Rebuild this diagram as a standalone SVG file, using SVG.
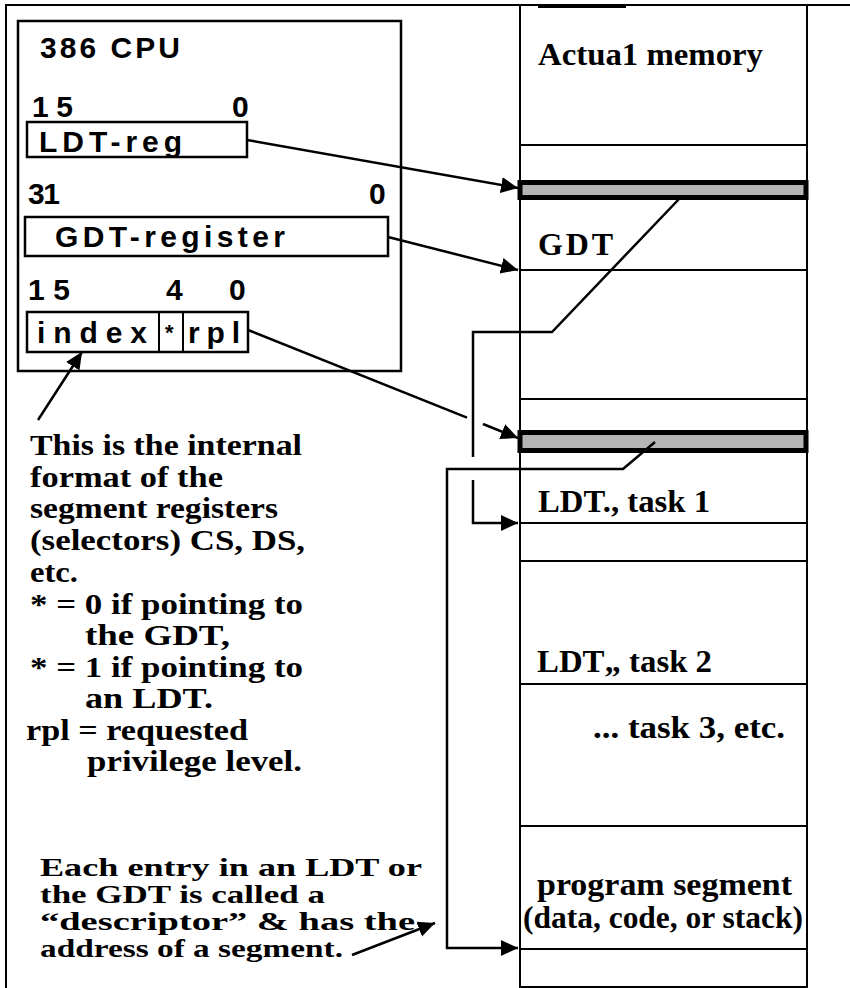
<svg xmlns="http://www.w3.org/2000/svg" width="850" height="988" viewBox="0 0 850 988">
<style>
.ln{stroke:#000;stroke-width:2;fill:none}
.box{stroke:#000;stroke-width:2.5;fill:none}
.band{stroke:#000;stroke-width:5;fill:#b4b4b4}
.cn{stroke:#000;stroke-width:2.5;fill:none}
.sans{font-family:"Liberation Sans",Arial,sans-serif;font-weight:bold;font-size:30px;fill:#000}
.serif{font-family:"Liberation Serif","Times New Roman",serif;font-weight:bold;font-size:29px;fill:#000}
.big{font-size:32px}
.sm{font-size:26px}
</style>
<defs>
<marker id="ah" markerUnits="userSpaceOnUse" markerWidth="18" markerHeight="18" refX="17" refY="9" orient="auto">
<path d="M0,1 L17,9 L0,17 z" fill="#000"/>
</marker>
</defs>
<rect width="850" height="988" fill="#fff"/>

<g id="frame">
<path class="ln" d="M6,988 V5 H850"/>
<rect x="538" y="5" width="88" height="3" fill="#000"/>
</g>

<g id="cpu">
<rect class="box" x="18" y="21" width="383" height="350"/>
<text class="sans" x="40" y="58" textLength="140" lengthAdjust="spacing">386 CPU</text>
</g>

<g id="ldt-reg">
<text class="sans" x="32" y="117" textLength="41" lengthAdjust="spacing">15</text>
<text class="sans" x="232" y="117">0</text>
<rect class="box" x="27" y="122" width="220" height="35"/>
<text class="sans" x="39" y="152" textLength="143" lengthAdjust="spacing">LDT-reg</text>
</g>

<g id="gdt-register">
<text class="sans" x="28" y="204" textLength="32" lengthAdjust="spacing">31</text>
<text class="sans" x="369" y="204">0</text>
<rect class="box" x="25" y="217" width="363" height="39"/>
<text class="sans" x="55" y="247" textLength="230" lengthAdjust="spacing">GDT-register</text>
</g>

<g id="selector">
<text class="sans" x="28" y="300" textLength="42" lengthAdjust="spacing">15</text>
<text class="sans" x="166" y="300">4</text>
<text class="sans" x="229" y="300">0</text>
<rect class="box" x="27" y="312" width="221" height="40"/>
<line class="ln" x1="159" y1="312" x2="159" y2="352"/>
<line class="ln" x1="183" y1="312" x2="183" y2="352"/>
<text class="sans" x="37" y="343" textLength="110" lengthAdjust="spacing">index</text>
<text class="sans" x="165" y="340" style="font-size:22px">*</text>
<text class="sans" x="188" y="343" textLength="52" lengthAdjust="spacing">rpl</text>
</g>

<g id="memory">
<line class="ln" x1="520" y1="5" x2="520" y2="988"/>
<line class="ln" x1="807" y1="5" x2="807" y2="988"/>
<line class="ln" x1="520" y1="145" x2="807" y2="145"/>
<line class="ln" x1="520" y1="270" x2="807" y2="270"/>
<line class="ln" x1="520" y1="399" x2="807" y2="399"/>
<line class="ln" x1="520" y1="523" x2="807" y2="523"/>
<line class="ln" x1="520" y1="561" x2="807" y2="561"/>
<line class="ln" x1="520" y1="684" x2="807" y2="684"/>
<line class="ln" x1="520" y1="826" x2="807" y2="826"/>
<line class="ln" x1="520" y1="949" x2="807" y2="949"/>
<line class="ln" x1="520" y1="987" x2="807" y2="987"/>
</g>

<g id="mem-title"><text class="serif big" x="538" y="65" textLength="225" lengthAdjust="spacingAndGlyphs">Actua1 memory</text></g>
<g id="gdt-descriptor"><rect class="band" x="520" y="182.5" width="286" height="15"/></g>
<g id="gdt"><text class="serif big" x="538" y="255" textLength="75" lengthAdjust="spacing">GDT</text></g>
<g id="ldt-descriptor"><rect class="band" x="520" y="432.5" width="286" height="18"/></g>
<g id="ldt-task1"><text class="serif big" x="538" y="512" textLength="172" lengthAdjust="spacingAndGlyphs">LDT., task 1</text></g>
<g id="ldt-task2"><text class="serif big" x="537" y="672" textLength="175" lengthAdjust="spacingAndGlyphs">LDT„ task 2</text></g>
<g id="task3"><text class="serif big" x="593" y="738" textLength="192" lengthAdjust="spacingAndGlyphs">... task 3, etc.</text></g>
<g id="program-segment">
<text class="serif big" x="537" y="895" textLength="255" lengthAdjust="spacingAndGlyphs">program segment</text>
<text class="serif" x="523" y="928" style="font-size:31px" textLength="280" lengthAdjust="spacingAndGlyphs">(data, code, or stack)</text>
</g>

<g id="note-selector">
<text class="serif" x="30" y="455" textLength="272" lengthAdjust="spacingAndGlyphs">This is the internal</text>
<text class="serif" x="30" y="487" textLength="193" lengthAdjust="spacingAndGlyphs">format of the</text>
<text class="serif" x="30" y="518" textLength="248" lengthAdjust="spacingAndGlyphs">segment registers</text>
<text class="serif" x="30" y="550" textLength="275" lengthAdjust="spacingAndGlyphs">(selectors) CS, DS,</text>
<text class="serif" x="30" y="582" textLength="48" lengthAdjust="spacingAndGlyphs">etc.</text>
<text class="serif" x="30" y="614" textLength="273" lengthAdjust="spacingAndGlyphs">* = 0 if pointing to</text>
<text class="serif" x="85" y="645" textLength="145" lengthAdjust="spacingAndGlyphs">the GDT,</text>
<text class="serif" x="30" y="677" textLength="273" lengthAdjust="spacingAndGlyphs">* = 1 if pointing to</text>
<text class="serif" x="85" y="708" textLength="128" lengthAdjust="spacingAndGlyphs">an LDT.</text>
<text class="serif" x="26" y="740" textLength="222" lengthAdjust="spacingAndGlyphs">rpl = requested</text>
<text class="serif" x="87" y="771" textLength="215" lengthAdjust="spacingAndGlyphs">privilege level.</text>
</g>

<g id="note-descriptor">
<text class="serif sm" x="40" y="876" textLength="382" lengthAdjust="spacingAndGlyphs">Each entry in an LDT or</text>
<text class="serif sm" x="40" y="903" textLength="285" lengthAdjust="spacingAndGlyphs">the GDT is called a</text>
<text class="serif sm" x="40" y="930" textLength="375" lengthAdjust="spacingAndGlyphs">“descriptor” &amp; has the</text>
<text class="serif sm" x="40" y="957" textLength="303" lengthAdjust="spacingAndGlyphs">address of a segment.</text>
</g>

<g id="connectors">
<path class="cn" d="M247,140 L518,188" marker-end="url(#ah)"/>
<path class="cn" d="M388,237 L518,270" marker-end="url(#ah)"/>
<path class="cn" d="M248,330 L467,417.6"/>
<path class="cn" d="M483,424 L518,438" marker-end="url(#ah)"/>
<path class="cn" d="M680,198 L552,332 L473,332 L473,457"/>
<path class="cn" d="M473,480 L473,523 L518,523" marker-end="url(#ah)"/>
<path class="cn" d="M655,442 L623,469 L447,469 L447,948 L518,948" marker-end="url(#ah)"/>
<path class="cn" d="M38,420 L82,352" marker-end="url(#ah)"/>
<path class="cn" d="M352,955 L435,923" marker-end="url(#ah)"/>
</g>
</svg>
